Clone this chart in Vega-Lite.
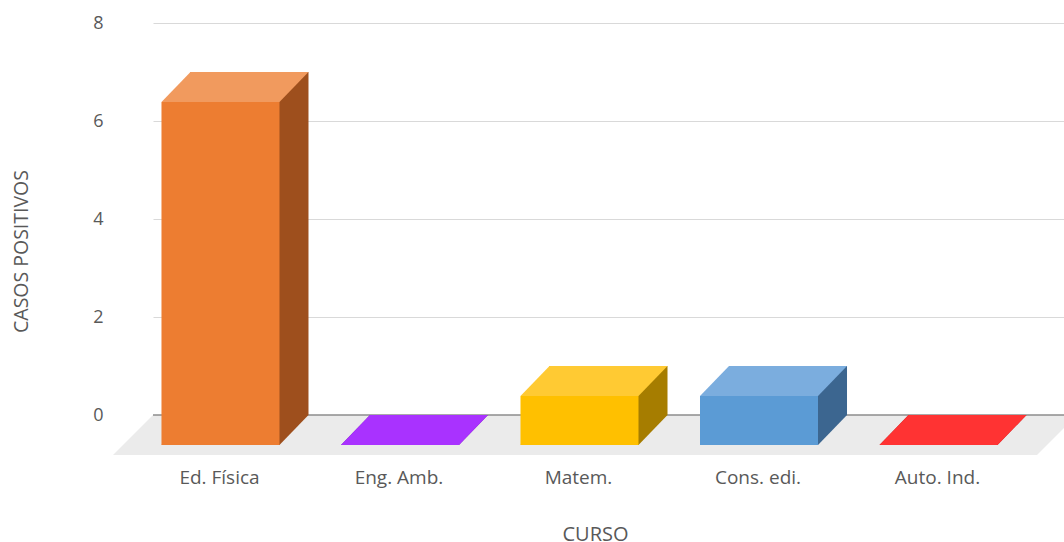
{
  "$schema": "https://vega.github.io/schema/vega-lite/v6.json",
  "width": 911,
  "height": 392,
  "autosize": "none",
  "padding": {"left": 153, "top": 23, "right": 0, "bottom": 127},
  "background": "white",
  "config": {"view": {"stroke": null}, "font": "Open Sans"},
  "data": {
    "values": [
      {"curso": "Ed. Física", "casos": 7},
      {"curso": "Eng. Amb.", "casos": 0},
      {"curso": "Matem.", "casos": 1},
      {"curso": "Cons. edi.", "casos": 1},
      {"curso": "Auto. Ind.", "casos": 0}
    ]
  },
  "encoding": {
    "y": {
      "field": "casos",
      "type": "quantitative",
      "scale": {"domain": [0, 8], "nice": false},
      "axis": {
        "title": "CASOS POSITIVOS",
        "values": [0, 2, 4, 6, 8],
        "grid": true,
        "gridColor": "#D9D9D9",
        "domain": false,
        "ticks": false,
        "labelPadding": 50,
        "labelFontSize": 18,
        "labelColor": "#595959",
        "titleX": -132,
        "titleY": 228,
        "titleAngle": -90,
        "titleAlign": "center",
        "titleBaseline": "middle",
        "titleFontSize": 19.5,
        "titleFontWeight": "normal",
        "titleColor": "#595959"
      }
    }
  },
  "layer": [
    {
      "transform": [{"filter": "datum.curso === 'Matem.'"}],
      "mark": {"type": "point", "shape": "M -0.917 -0.0415 L 1 -0.0415 L 0.917 0.0415 L -1 0.0415 Z", "size": 929296, "filled": true, "color": "#EBEBEB", "opacity": 1, "strokeWidth": 0, "xOffset": -13.5, "yOffset": 20},
      "encoding": {
        "x": {"field": "curso", "type": "nominal", "sort": null,
          "scale": {"domain": ["Ed. Física", "Eng. Amb.", "Matem.", "Cons. edi.", "Auto. Ind."], "paddingInner": 0.3426, "paddingOuter": 0.2088},
          "axis": {"title": "CURSO", "labelAngle": 0, "labelOffset": -30, "labelPadding": 53, "labelFontSize": 19, "labelColor": "#595959", "domain": false, "ticks": false, "titleFontSize": 20, "titleFontWeight": "normal", "titleColor": "#595959", "titleX": 442, "titleY": 119, "titleAlign": "center", "titleBaseline": "middle"}},
        "y": {"datum": 0, "type": "quantitative"}
      }
    },
    {
      "transform": [{"filter": "datum.curso === 'Matem.'"}],
      "mark": {"type": "rule", "color": "#8C8C8C", "strokeWidth": 1.5},
      "encoding": {"y": {"datum": 0, "type": "quantitative"}}
    },
    {
      "mark": {"type": "bar"},
      "encoding": {
        "x": {"field": "curso", "type": "nominal", "sort": null},
        "color": {"field": "curso", "type": "nominal", "legend": null, "scale": {"domain": ["Ed. Física", "Eng. Amb.", "Matem.", "Cons. edi.", "Auto. Ind."], "range": ["#9E4F1D", "#7024AA", "#A67D00", "#3C6690", "#AA2222"]}}
      }
    },
    {
      "mark": {"type": "point", "shape": "M -1 0.2041 L 0.6054 0.2041 L 1 -0.2041 L -0.6054 -0.2041 Z", "size": 21609, "filled": true, "opacity": 1, "strokeWidth": 0, "xOffset": -14.5, "yOffset": 15},
      "encoding": {
        "x": {"field": "curso", "type": "nominal", "sort": null},
        "y": {"datum": 0, "type": "quantitative"},
        "color": {"field": "curso", "type": "nominal", "legend": null, "scale": {"domain": ["Ed. Física", "Eng. Amb.", "Matem.", "Cons. edi.", "Auto. Ind."], "range": ["#9E4F1D", "#7024AA", "#A67D00", "#3C6690", "#AA2222"]}}
      }
    },
    {
      "mark": {"type": "bar", "xOffset": -29, "x2Offset": -29, "yOffset": 30, "y2Offset": 30},
      "encoding": {
        "x": {"field": "curso", "type": "nominal", "sort": null},
        "color": {"field": "curso", "type": "nominal", "legend": null, "scale": {"domain": ["Ed. Física", "Eng. Amb.", "Matem.", "Cons. edi.", "Auto. Ind."], "range": ["#ED7D31", "#A932FF", "#FFC000", "#5B9BD5", "#FF3333"]}}
      }
    },
    {
      "mark": {"type": "point", "shape": "M -1 0.2041 L 0.6054 0.2041 L 1 -0.2041 L -0.6054 -0.2041 Z", "size": 21609, "filled": true, "opacity": 1, "strokeWidth": 0, "xOffset": -14.5, "yOffset": 15},
      "encoding": {
        "x": {"field": "curso", "type": "nominal", "sort": null},
        "color": {"field": "curso", "type": "nominal", "legend": null, "scale": {"domain": ["Ed. Física", "Eng. Amb.", "Matem.", "Cons. edi.", "Auto. Ind."], "range": ["#F19A5E", "#A932FF", "#FFCA33", "#7BADDE", "#FF3333"]}}
      }
    }
  ],
  "resolve": {"scale": {"color": "independent"}}
}
